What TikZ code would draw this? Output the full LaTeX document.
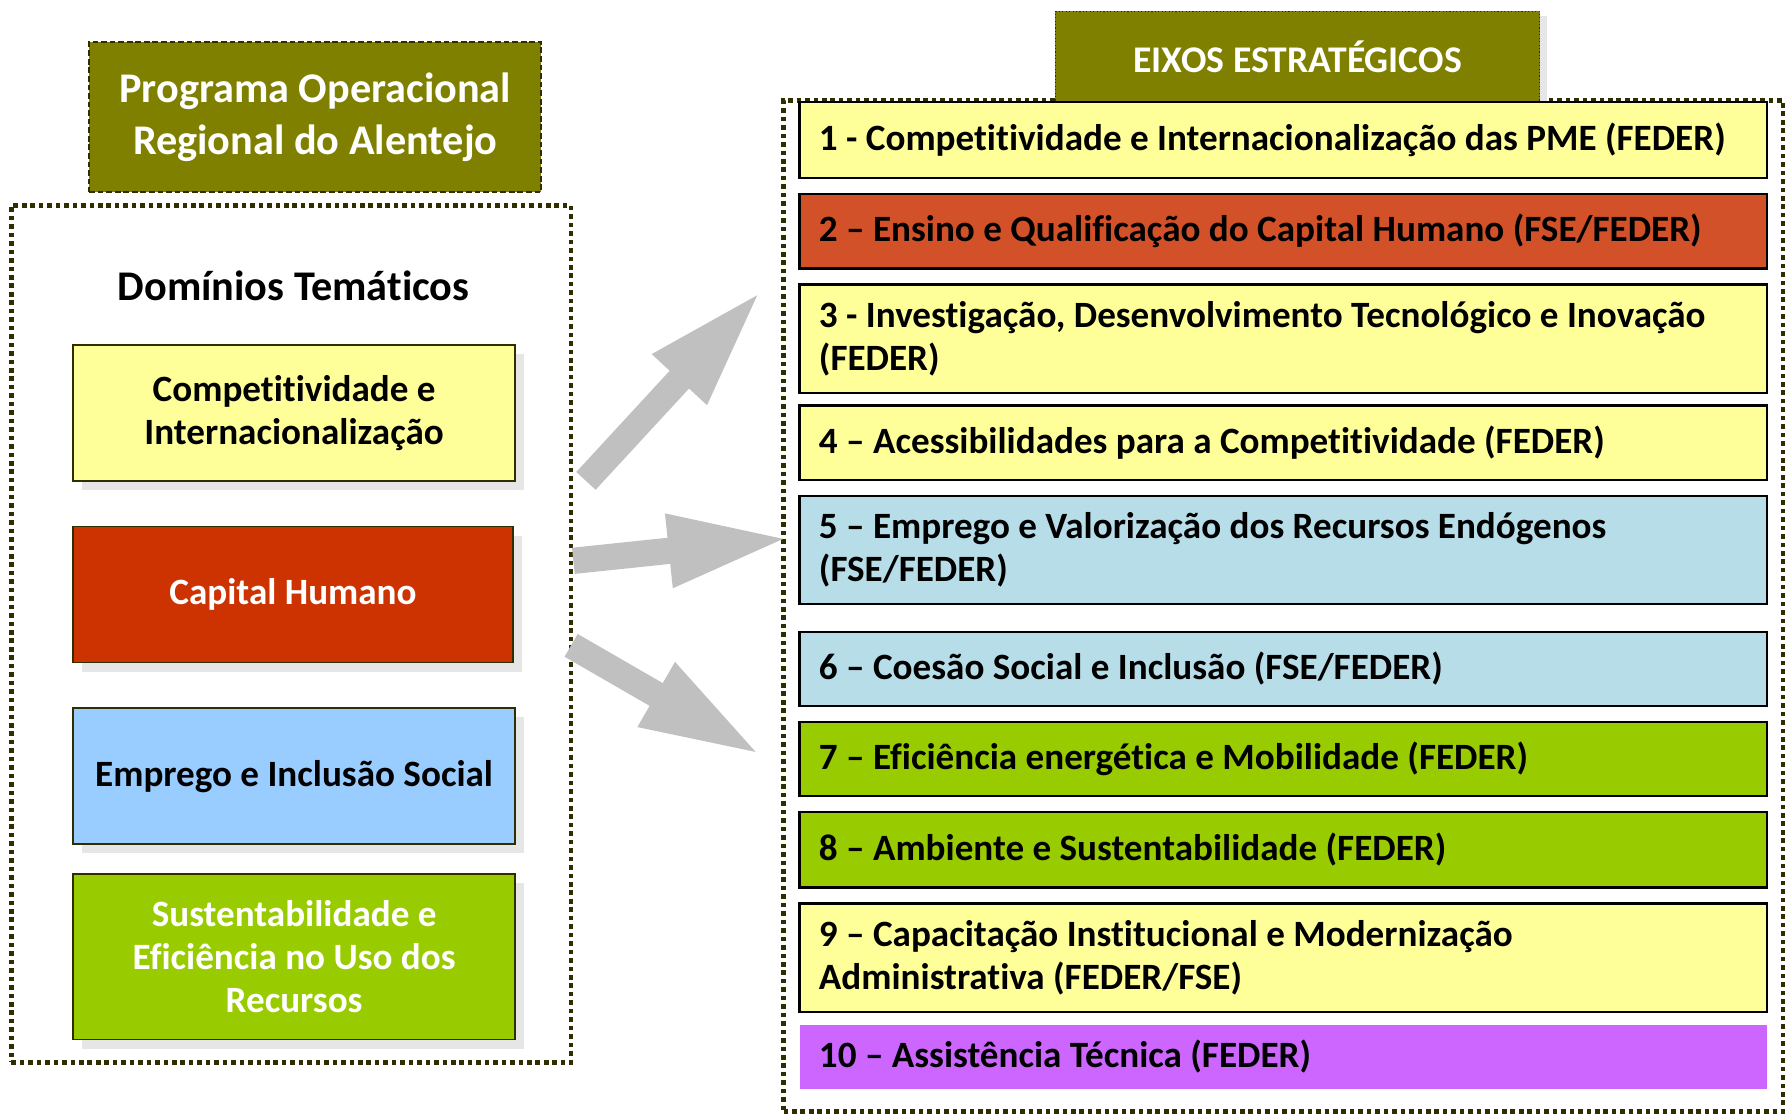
\documentclass[tikz,border=0pt]{standalone}
\usepackage{fontspec}
\setmainfont{Carlito}[Ligatures=NoCommon]
\usetikzlibrary{arrows.meta,shadows}
\definecolor{oliva}{HTML}{808000}
\definecolor{escuro}{HTML}{2E2E00}
\definecolor{amarelo}{HTML}{FFFF99}
\definecolor{vermelho}{HTML}{CC3300}
\definecolor{laranja}{HTML}{D35129}
\definecolor{azul}{HTML}{99CCFF}
\definecolor{ciano}{HTML}{B7DEE8}
\definecolor{verde}{HTML}{99CC00}
\definecolor{lilas}{HTML}{CC66FF}
\definecolor{cinza}{HTML}{C0C0C0}
\definecolor{sombra}{HTML}{E6E6E6}
\tikzset{
	texto/.style={font=\bfseries\fontsize{32.5}{38}\selectfont},
	titulo/.style={font=\bfseries\fontsize{37}{46}\selectfont},
	pontilhado/.style={draw=escuro, line width=4pt, dash pattern=on 4pt off 3.4pt},
	dominio/.style={texto, draw=escuro, line width=1.5pt, minimum width=387pt, minimum height=119pt, align=center, general shadow={fill=sombra, shadow xshift=8pt, shadow yshift=-8pt}},
	eixo/.style={texto, draw=black, line width=2pt, minimum width=847pt, text width=813pt, inner xsep=17pt, align=flush left},
	seta/.style={draw=cinza, line width=23pt, -{Triangle[length=108pt,width=58pt]}}
}
\begin{document}
\begin{tikzpicture}[x=1pt,y=-1pt]
	\useasboundingbox (0,0) rectangle (1568,976);
	\node[titulo, fill=oliva, text=white, draw=escuro, line width=1.8pt, dash pattern=on 5pt off 2.5pt, minimum width=396pt, minimum height=131pt, align=center] (programa) at (276,102.5) {Programa Operacional\\Regional do Alentejo};
	\node[pontilhado, minimum width=490pt, minimum height=750pt] (dominios) at (255,555) {};
	\node[titulo] (tematicos) at (257,250) {Domínios Temáticos};
	\node[dominio, fill=amarelo] (competitividade) at (257.5,361.5) {Competitividade e\\Internacionalização};
	\node[dominio, fill=vermelho, text=white, minimum width=385pt] (capital) at (256.5,520.5) {Capital Humano};
	\node[dominio, fill=azul] (emprego) at (257.5,679.5) {Emprego e Inclusão Social};
	\node[dominio, fill=verde, text=white, minimum height=145pt] (sustentabilidade) at (257.5,837.5) {Sustentabilidade e\\Eficiência no Uso dos\\Recursos};
	\node[pontilhado, minimum width=875pt, minimum height=885pt] (eixos) at (1123.5,530.5) {};
	\node[font=\bfseries\fontsize{33}{40}\selectfont, fill=oliva, text=white, draw=escuro, line width=1pt, dotted, minimum width=424pt, minimum height=80pt, general shadow={fill=sombra, shadow xshift=6pt, shadow yshift=-4pt}] (cabecalho) at (1136,50) {EIXOS ESTRATÉGICOS};
	\node[eixo, fill=amarelo, minimum height=67pt] (e1) at (1123.5,122.5) {1 - Competitividade e Internacionalização das PME (FEDER)};
	\node[eixo, fill=laranja, minimum height=65pt] (e2) at (1123.5,202.5) {2 – Ensino e Qualificação do Capital Humano (FSE/FEDER)};
	\node[eixo, fill=amarelo, minimum height=95pt] (e3) at (1123.5,296.5) {3 - Investigação, Desenvolvimento Tecnológico e Inovação\\(FEDER)};
	\node[eixo, fill=amarelo, minimum height=65pt] (e4) at (1123.5,387.5) {4 – Acessibilidades para a Competitividade (FEDER)};
	\node[eixo, fill=ciano, minimum height=95pt] (e5) at (1123.5,481.5) {5 – Emprego e Valorização dos Recursos Endógenos\\(FSE/FEDER)};
	\node[eixo, fill=ciano, minimum height=65pt] (e6) at (1123.5,585.5) {6 – Coesão Social e Inclusão (FSE/FEDER)};
	\node[eixo, fill=verde, minimum height=65pt] (e7) at (1123.5,664.5) {7 – Eficiência energética e Mobilidade (FEDER)};
	\node[eixo, fill=verde, minimum height=66pt] (e8) at (1123.5,744) {8 – Ambiente e Sustentabilidade (FEDER)};
	\node[eixo, fill=amarelo, minimum height=95pt] (e9) at (1123.5,838.5) {9 – Capacitação Institucional e Modernização\\Administrativa (FEDER/FSE)};
	\node[eixo, fill=lilas, draw=none, minimum height=56pt] (e10) at (1123.5,925) {10 – Assistência Técnica (FEDER)};
	\coordinate (saida1) at (513,421);
	\coordinate (chegada1) at (668,253);
	\coordinate (saida2) at (502,491);
	\coordinate (chegada2) at (693,471);
	\coordinate (saida3) at (500,565);
	\coordinate (chegada3) at (668,662);
	\draw[seta] (saida1) -- (chegada1);
	\draw[seta] (saida2) -- (chegada2);
	\draw[seta] (saida3) -- (chegada3);
\end{tikzpicture}
\end{document}
